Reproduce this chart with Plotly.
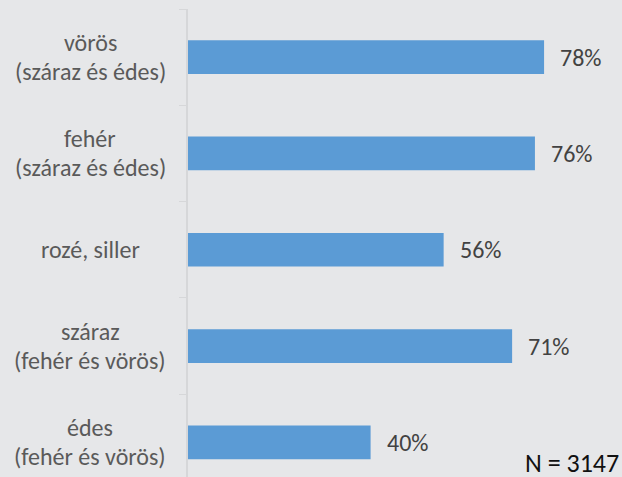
import plotly.graph_objects as go

categories = ["vörös<br>(száraz és édes)", "fehér<br>(száraz és édes)", "rozé, siller",
              "száraz<br>(fehér és vörös)", "édes<br>(fehér és vörös)"]
values = [78, 76, 56, 71, 40]
value_labels = ["78%", "76%", "56%", "71%", "40%"]
note_text = "N = 3147"

W, H = 622, 477
ml, mt = 188, 9
plot_w = W - ml
px_per_unit = 4.565
band_px = 96.3
BG = "#e6e7e9"

fig = go.Figure()
fig.add_trace(go.Bar(
    y=list(range(len(categories))), x=values, orientation="h",
    marker=dict(color="#5b9bd5", line=dict(width=0)),
    width=0.35, hoverinfo="skip",
))

font_family = "Carlito, Calibri, Lato, sans-serif"
annotations = []
line_gap = 29
for i, (c, v, t) in enumerate(zip(categories, values, value_labels)):
    lines = c.split("<br>")
    n = len(lines)
    for k, ln in enumerate(lines):
        shift = ((n - 1) / 2 - k) * line_gap
        annotations.append(dict(
            x=-98 / plot_w, xref="paper", y=i, yref="y", text=ln, showarrow=False,
            xanchor="center", yanchor="middle", align="center", yshift=shift,
            font=dict(family=font_family, size=24, color="#5a5a5a"),
        ))
    annotations.append(dict(
        x=v, xref="x", y=i, yref="y", text=t, showarrow=False,
        xanchor="left", yanchor="middle", xshift=14,
        font=dict(family=font_family, size=24, color="#424242"),
    ))
annotations.append(dict(
    x=1, xref="paper", y=0, yref="paper", text=note_text, showarrow=False,
    xanchor="right", yanchor="bottom", xshift=-1, yshift=-4,
    font=dict(family=font_family, size=26, color="#111111"),
))

n_vis = (H - mt) / band_px
fig.update_layout(
    width=W, height=H,
    margin=dict(l=ml, r=0, t=mt, b=0, pad=0),
    paper_bgcolor=BG, plot_bgcolor=BG,
    showlegend=False,
    xaxis=dict(range=[0, plot_w / px_per_unit], visible=False, fixedrange=True),
    yaxis=dict(
        range=[n_vis - 0.5, -0.5], tickmode="array",
        tickvals=[i - 0.5 for i in range(len(categories) + 1)],
        ticktext=[""] * (len(categories) + 1),
        ticks="outside", ticklen=7, tickcolor="#d6d7d9", tickwidth=1,
        showline=True, linecolor="#d6d7d9", linewidth=2,
        showgrid=False, zeroline=False, fixedrange=True,
    ),
    annotations=annotations,
)
fig.write_html(
    "out.html",
    config={"displayModeBar": False},
    post_script="document.body.style.margin='0';document.body.style.overflow='hidden';"
                "document.body.style.background='" + BG + "';",
)
